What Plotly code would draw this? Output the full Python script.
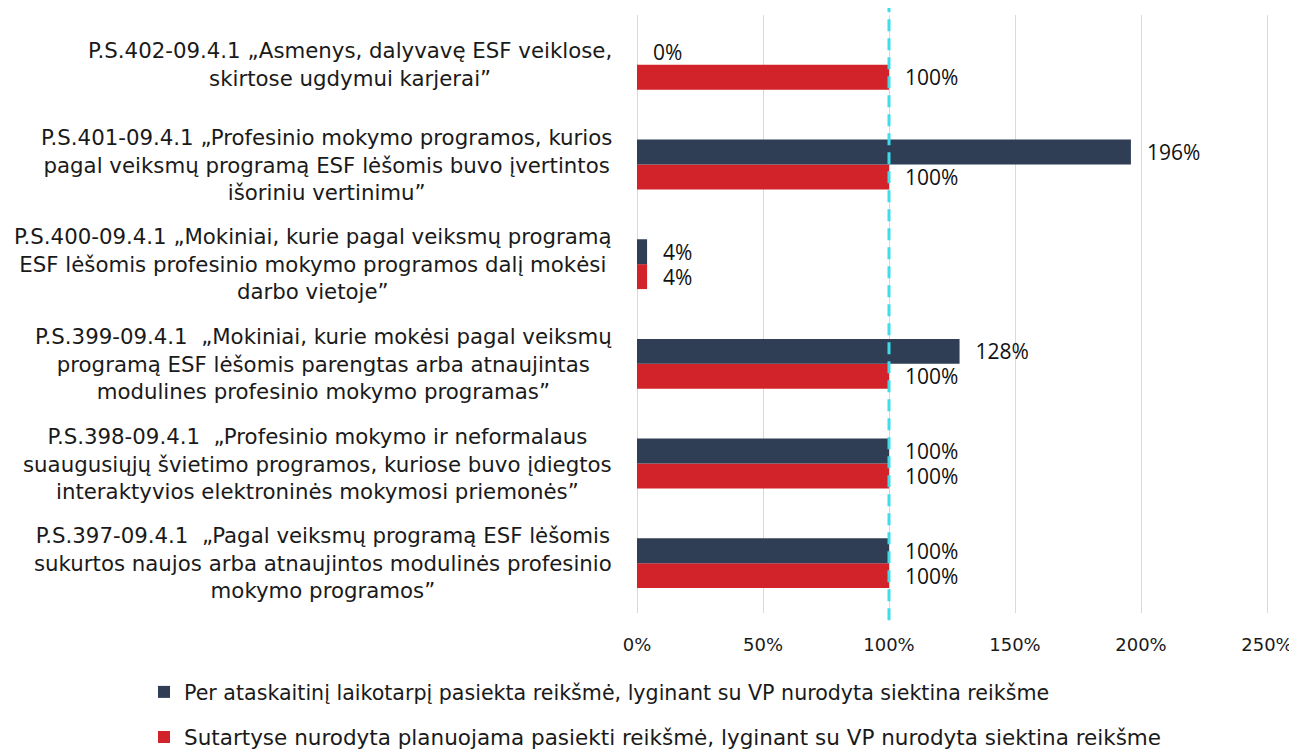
import plotly.graph_objects as go

categories = [
    "P.S.397-09.4.1  „Pagal veiksmų programą ESF lėšomis<br>sukurtos naujos arba atnaujintos modulinės profesinio<br>mokymo programos”",
    "P.S.398-09.4.1  „Profesinio mokymo ir neformalaus<br>suaugusiųjų švietimo programos, kuriose buvo įdiegtos<br>interaktyvios elektroninės mokymosi priemonės”",
    "P.S.399-09.4.1  „Mokiniai, kurie mokėsi pagal veiksmų<br>programą ESF lėšomis parengtas arba atnaujintas<br>modulines profesinio mokymo programas”",
    "P.S.400-09.4.1 „Mokiniai, kurie pagal veiksmų programą<br>ESF lėšomis profesinio mokymo programos dalį mokėsi<br>darbo vietoje”",
    "P.S.401-09.4.1 „Profesinio mokymo programos, kurios<br>pagal veiksmų programą ESF lėšomis buvo įvertintos<br>išoriniu vertinimu”",
    "P.S.402-09.4.1 „Asmenys, dalyvavę ESF veiklose,<br>skirtose ugdymui karjerai”",
]
cat_ids = ["PS397", "PS398", "PS399", "PS400", "PS401", "PS402"]

achieved = [100, 100, 128, 4, 196, 0]
planned = [100, 100, 100, 4, 100, 100]

name_achieved = "Per ataskaitinį laikotarpį pasiekta reikšmė, lyginant su VP nurodyta siektina reikšme"
name_planned = "Sutartyse nurodyta planuojama pasiekti reikšmė, lyginant su VP nurodyta siektina reikšme"

x_ticks = [0, 50, 100, 150, 200, 250]
x_ticktext = ["0%", "50%", "100%", "150%", "200%", "250%"]
target_line = 100

FONT = "DejaVu Sans"
LBL_FONT = "Open Sans"
PAD = "\u00a0\u00a0\u200a"

W, H = 1289, 741  # page body has an 8px margin
L, R = 629, 28
PLOT_W = W - L - R
X_MAX = 250 * PLOT_W / 630  # 630 px per 250% in the reference

fig = go.Figure()
fig.add_trace(go.Bar(
    y=cat_ids, x=planned, orientation="h", name=name_planned,
    marker=dict(color="#D2232A", line=dict(width=0)),
    text=[f"{PAD}{v}%" for v in planned], textposition="outside",
    constraintext="none",
    textfont=dict(family=LBL_FONT, size=21, color="#111111"),
    cliponaxis=False, legend="legend2",
))
fig.add_trace(go.Bar(
    y=cat_ids, x=achieved, orientation="h", name=name_achieved,
    marker=dict(color="#2F3E55", line=dict(width=0)),
    text=[f"{PAD}{v}%" for v in achieved], textposition="outside",
    constraintext="none",
    textfont=dict(family=LBL_FONT, size=21, color="#111111"),
    cliponaxis=False, legend="legend",
))

for cid, label in zip(cat_ids, categories):
    fig.add_annotation(
        x=0, xref="paper", xanchor="right", xshift=-23,
        y=cid, yref="y", yanchor="middle",
        text=label, align="center", showarrow=False,
        font=dict(family=FONT, size=21.3, color="#1a1a1a"),
    )

fig.add_shape(
    type="line", xref="x", yref="paper",
    x0=target_line, x1=target_line, y0=-0.012, y1=1.017,
    line=dict(color="#3FDCEB", width=3, dash="12px,7px"),
)

fig.update_layout(
    width=W, height=H,
    margin=dict(l=L, r=R, t=7, b=136, autoexpand=False),
    plot_bgcolor="white", paper_bgcolor="white",
    barmode="group", bargap=0.5, bargroupgap=0,
    font=dict(family=FONT, size=18, color="#1a1a1a"),
    xaxis=dict(
        range=[0, X_MAX], tickmode="array", tickvals=x_ticks, ticktext=x_ticktext,
        showgrid=True, gridcolor="#D9D9D9", gridwidth=1,
        zeroline=True, zerolinecolor="#D9D9D9", zerolinewidth=1, showline=False,
        ticks="outside", ticklen=15, tickcolor="rgba(0,0,0,0)",
        tickfont=dict(family=FONT, size=18, color="#1a1a1a"),
    ),
    yaxis=dict(
        type="category", categoryorder="array", categoryarray=cat_ids,
        showticklabels=False, showgrid=False, zeroline=False, ticks="",
    ),
    legend=dict(
        xref="container", yref="container", x=136/W, y=1-(692-8)/H,
        xanchor="left", yanchor="middle", bgcolor="rgba(0,0,0,0)",
        font=dict(family=FONT, size=20.6, color="#1a1a1a"),
    ),
    legend2=dict(
        xref="container", yref="container", x=136/W, y=1-(737-8)/H,
        xanchor="left", yanchor="middle", bgcolor="rgba(0,0,0,0)",
        font=dict(family=FONT, size=21.5, color="#1a1a1a"),
    ),
    showlegend=True,
)

fig.write_html("out.html")
